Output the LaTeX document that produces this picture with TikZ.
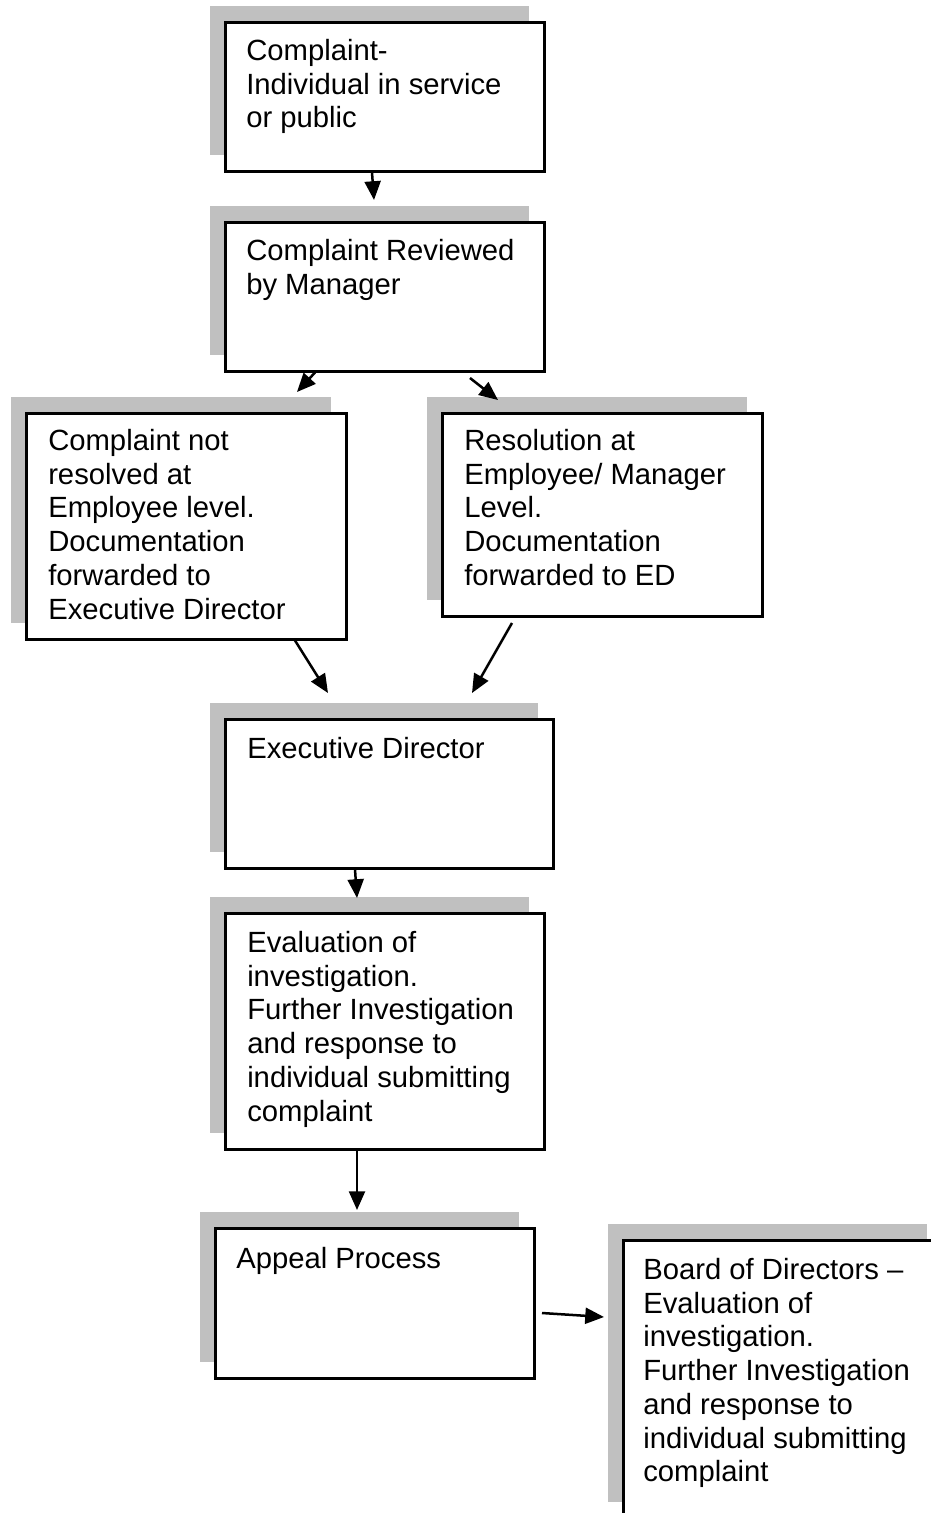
\documentclass[tikz,border=0pt]{standalone}
\usepackage{fontspec}
\setmainfont{Liberation Sans}
\usetikzlibrary{arrows.meta}
\usetikzlibrary{calc}
\usetikzlibrary{shadows}
\definecolor{shadowgray}{RGB}{192,192,192}

\begin{document}
\begin{tikzpicture}[x=0.4pt,y=-0.4pt,>/.tip={Triangle[length=7.5pt,width=6.4pt]},line width=1pt,
	flowbox/.style 2 args={shape=rectangle,draw,fill=white,anchor=north west,inner sep=0pt,
		minimum width=#1*0.4pt,minimum height=#2*0.4pt,
		drop shadow={shadow xshift=-6.2pt,shadow yshift=6.4pt,fill=shadowgray,opacity=1}},
	boxtext/.style={anchor=north west,inner sep=0pt,align=left,font=\fontsize{11.7}{13.5}\selectfont}]
	\useasboundingbox (0,0) rectangle (931,1513);
	\clip (0,0) rectangle (931,1513);
	% boxes
	\draw (224,21) node (cmp) [flowbox={319}{149}] {};
	\draw (224,221) node (rev) [flowbox={319}{149}] {};
	\draw (25,412) node (notres) [flowbox={320}{226}] {};
	\draw (441,412) node (resol) [flowbox={320}{203}] {};
	\draw (224,718) node (exec) [flowbox={328}{149}] {};
	\draw (224,912) node (eval) [flowbox={319}{236}] {};
	\draw (214,1227) node (appeal) [flowbox={319}{150}] {};
	\draw (622,1239) node (board) [flowbox={319}{278}] {};
	% texts
	\node (cmptxt) [boxtext] at ($(cmp.north west)+(21,17)$) {Complaint-\\Individual in service\\or public};
	\node (revtxt) [boxtext] at ($(rev.north west)+(21,17)$) {Complaint Reviewed\\by Manager};
	\node (notrestxt) [boxtext] at ($(notres.north west)+(22,16)$) {Complaint not\\resolved at\\Employee level.\\Documentation\\forwarded to\\Executive Director};
	\node (resoltxt) [boxtext] at ($(resol.north west)+(22,16)$) {Resolution at\\Employee/ Manager\\Level.\\Documentation\\forwarded to ED};
	\node (exectxt) [boxtext] at ($(exec.north west)+(22,18)$) {Executive Director};
	\node (evaltxt) [boxtext] at ($(eval.north west)+(22,18)$) {Evaluation of\\investigation.\\Further Investigation\\and response to\\individual submitting\\complaint};
	\node (appealtxt) [boxtext] at ($(appeal.north west)+(21,19)$) {Appeal Process};
	\node (boardtxt) [boxtext] at ($(board.north west)+(20,18)$) {Board of Directors \textendash\\Evaluation of\\investigation.\\Further Investigation\\and response to\\individual submitting\\complaint};
	% arrows
	\coordinate (revtip) at (374,200);
	\coordinate (lefttip) at (297,392);
	\coordinate (rightstart) at (470,378);
	\coordinate (righttip) at (498,400);
	\coordinate (fromleft) at (328,693);
	\coordinate (rightend) at (512,623);
	\coordinate (fromright) at (472,693);
	\coordinate (evaltip) at (357,898);
	\coordinate (appealtip) at (357,1210);
	\coordinate (boardstart) at (542,1313);
	\coordinate (boardtip) at (604,1317);
	\draw[->] ($(cmp.south west)+(148,0)$) -- (revtip);
	\draw[->] ($(rev.south west)+(91,0)$) -- (lefttip);
	\draw[->] (rightstart) -- (righttip);
	\draw[->] ($(notres.south west)+(270,0)$) -- (fromleft);
	\draw[->] (rightend) -- (fromright);
	\draw[->] ($(exec.south west)+(131,0)$) -- (evaltip);
	\draw[->] ($(eval.south west)+(133,0)$) -- (appealtip);
	\draw[->] (boardstart) -- (boardtip);
\end{tikzpicture}
\end{document}
